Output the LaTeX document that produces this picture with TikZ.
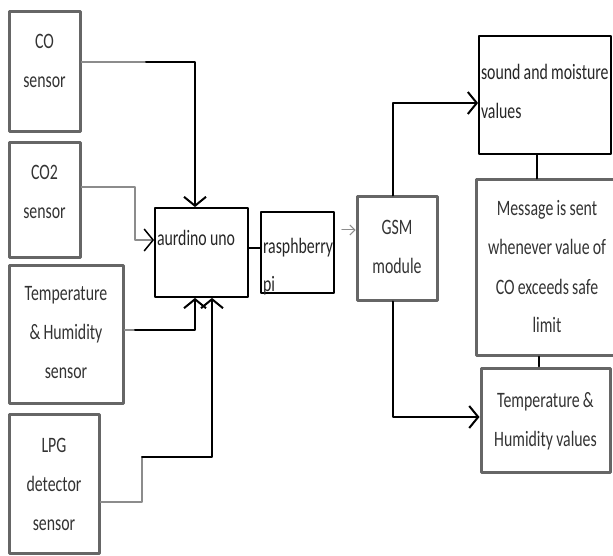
\documentclass[tikz,border=0pt]{standalone}
\usepackage{fontspec}
\newfontfamily\boxfont{Carlito}[FakeStretch=0.72]
\newcommand\boxsize{\boxfont\fontsize{22}{39}\selectfont\fontdimen2\font=3.2pt\hyphenpenalty=10000\relax}
\usetikzlibrary{arrows.meta}

\begin{document}
\begin{tikzpicture}[line cap=round,line join=round,>={Straight Barb[length=9pt,width=22pt]},x=1pt,y=-1pt,
  gbox/.style={rectangle, draw=black!60, line width=3pt, text=black!80, align=flush center, inner sep=2pt, font=\boxsize},
  bbox/.style={rectangle, draw=black, line width=1.8pt, text=black!85, align=flush left, inner sep=2pt, font=\boxsize},
  gline/.style={draw=black!45, line width=1.5pt},
  bline/.style={draw=black, line width=2pt},
  tb/.style={text height=2pt, text depth=#1}]
  \useasboundingbox (0,0) rectangle (613,556);

  \node[gbox, minimum width=71pt, minimum height=120pt, text width=67pt, tb=48pt] (co) at (44.5,72) {CO\\sensor};
  \node[gbox, minimum width=71pt, minimum height=114pt, text width=67pt, tb=42pt] (cotwo) at (44.5,200) {CO2\\sensor};
  \node[gbox, minimum width=114pt, minimum height=138pt, text width=110pt, tb=70pt] (ths) at (66,334) {Temperature\\\& Humidity\\sensor};
  \node[gbox, minimum width=90pt, minimum height=139pt, text width=86pt, tb=65pt] (lpg) at (54,483.5) {LPG\\detector\\sensor};

  \node[bbox, minimum width=93pt, minimum height=89pt, text width=89pt, tb=17pt] (uno) at (201.5,252.5) {aurdino uno};
  \node[bbox, minimum width=73pt, minimum height=81pt, text width=69pt, tb=9.5pt, text height=10.5pt] (rpi) at (297.5,252.5) {rasphberry\\pi};
  \node[gbox, minimum width=80pt, minimum height=103pt, text width=76pt, tb=29pt] (gsm) at (397,248.5) {GSM\\module};

  \node[bbox, minimum width=132pt, minimum height=118pt, text width=128pt, tb=32pt] (sound) at (545,95) {sound and moisture\\values};
  \node[gbox, minimum width=142pt, minimum height=175pt, text width=138pt, tb=105pt] (msg) at (547,267.5) {Message is sent\\whenever value of\\CO exceeds safe\\limit};
  \node[gbox, minimum width=129pt, minimum height=104pt, text width=125pt, tb=28pt] (thval) at (545.5,420) {Temperature \&\\Humidity values};

  \draw[gline] ([yshift=10pt]co.east) -- (146,62) coordinate (cobend);
  \draw[bline,->] (cobend) -| ([xshift=-6.5pt]uno.north);
  \draw[gline,-{>[black]}] ([yshift=13pt]cotwo.east) -- (135,187) |- ([yshift=12.5pt]uno.west);
  \draw[gline] ([yshift=4pt]ths.east) -- (135,330) coordinate (thbend);
  \draw[bline,->] (thbend) -| ([xshift=-6.5pt]uno.south);
  \draw[gline] ([yshift=-18.5pt]lpg.east) -| (142,457) coordinate (lpgbend);
  \draw[bline,->] (lpgbend) -| ([xshift=10.5pt]uno.south);

  \draw[bline] ([yshift=4.5pt]uno.east) -- ([yshift=4.5pt]rpi.west);
  \draw[gline,line width=1pt,-{Straight Barb[length=5pt,width=10pt]}] ([xshift=7pt,yshift=22.5pt]rpi.east) -- ([yshift=18.5pt]gsm.west);

  \draw[bline,->] ([xshift=-4pt]gsm.north) |- ([yshift=-8pt]sound.west);
  \draw[bline] ([xshift=-8pt]sound.south) -- ([xshift=-10pt]msg.north);
  \draw[bline,line width=1.5pt] ([xshift=-8pt]msg.south) -- ([xshift=-6.5pt]thval.north);
  \draw[bline,->] ([xshift=-4pt]gsm.south) |- ([yshift=3pt]thval.west);
\end{tikzpicture}
\end{document}
